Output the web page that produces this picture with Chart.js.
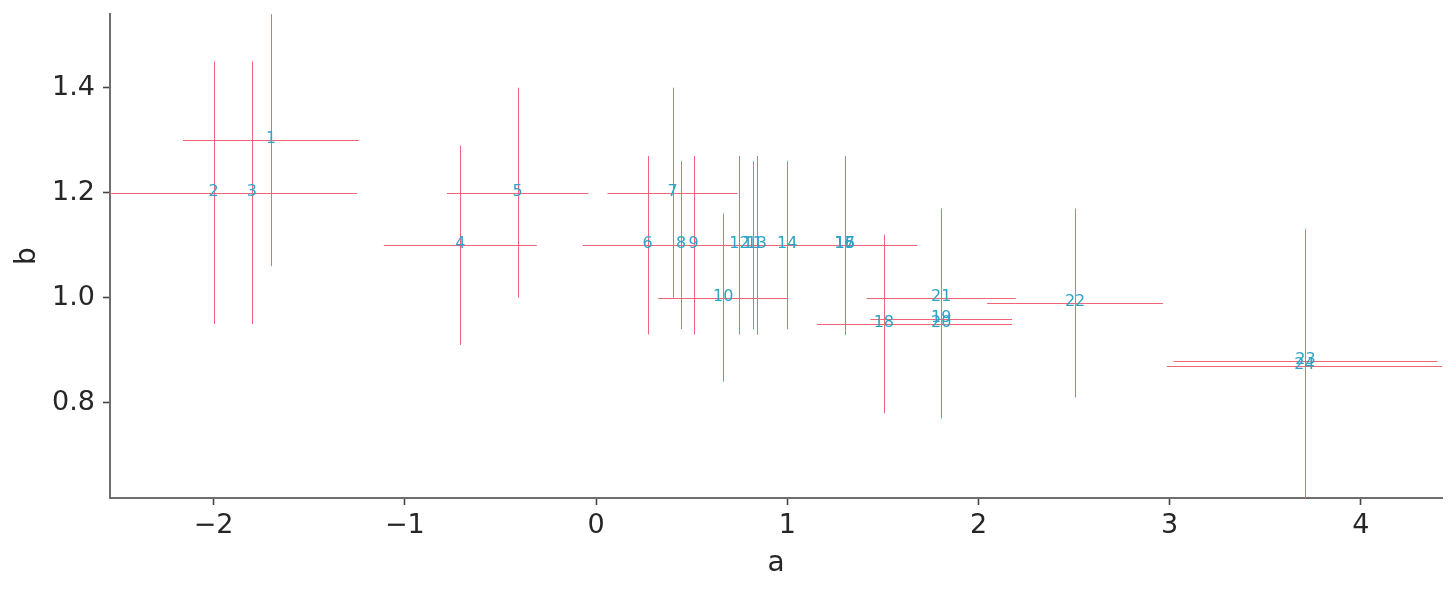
<!DOCTYPE html>
<html>
<head>
<meta charset="utf-8">
<script src="https://cdn.jsdelivr.net/npm/chart.js@4.4.1/dist/chart.umd.min.js"></script>
<style>
  html, body { margin: 0; padding: 0; background: #fff; }
  #c { display: block; }
</style>
</head>
<body>
<canvas id="c" width="1456" height="592"></canvas>
<script>
// point labels, positions (a, b) and symmetric errors
const LABELS = ["1","2","3","4","5","6","7","8","9","10","11","12",
                "13","14","15","16","17","18","19","20","21","22","23","24"];
const A     = [-1.70, -2.00, -1.80, -0.71, -0.41, 0.27, 0.40, 0.445, 0.51, 0.665, 0.82, 0.75,
                0.84,  1.00,  1.30,  1.30,  1.30, 1.505, 1.805, 1.805, 1.805, 2.505, 3.71, 3.705];
const B     = [ 1.30,  1.20,  1.20,  1.10,  1.20, 1.10, 1.20, 1.10, 1.10, 1.00, 1.10, 1.10,
                1.10,  1.10,  1.10,  1.10,  1.10, 0.95, 0.96, 0.95, 1.00, 0.99, 0.88, 0.87];
const A_ERR = [ 0.46,  0.55,  0.55,  0.40,  0.37, 0.34, 0.34, 0.35, 0.33, 0.34, 0.36, 0.34,
                0.35,  0.36,  0.38,  0.36,  0.35, 0.35, 0.37, 0.37, 0.39, 0.46, 0.69, 0.72];
const B_ERR = [ 0.24,  0.25,  0.25,  0.19,  0.20, 0.17, 0.20, 0.16, 0.17, 0.16, 0.16, 0.17,
                0.17,  0.16,  0.17,  0.17,  0.17, 0.17, 0.17, 0.18, 0.17, 0.18, 0.25, 0.26];

const X_TICKS = [-2, -1, 0, 1, 2, 3, 4];
const Y_TICKS = [0.8, 1.0, 1.2, 1.4];

const BAR_COLOR = "#ee6677";
const LABEL_COLOR = "#2ea3c5";
const TEXT = "#262626";
const FONT = "'DejaVu Sans', 'Liberation Sans', sans-serif";

const snap = v => Math.round(v) + 0.5;

// error bars + number labels, drawn through the chart's own scales
const errorBars = {
  id: "errorBars",
  afterDatasetsDraw(chart) {
    const { ctx, chartArea: ca, scales: { x, y } } = chart;
    ctx.save();
    ctx.beginPath();
    ctx.rect(ca.left, ca.top, ca.right - ca.left, ca.bottom - ca.top);
    ctx.clip();
    ctx.strokeStyle = BAR_COLOR;
    ctx.lineWidth = 1;
    A.forEach((a, i) => {
      const px = snap(x.getPixelForValue(a));
      const py = snap(y.getPixelForValue(B[i]));
      ctx.beginPath();
      ctx.moveTo(x.getPixelForValue(a - A_ERR[i]), py);
      ctx.lineTo(x.getPixelForValue(a + A_ERR[i]), py);
      ctx.moveTo(px, y.getPixelForValue(B[i] + B_ERR[i]));
      ctx.lineTo(px, y.getPixelForValue(B[i] - B_ERR[i]));
      ctx.stroke();
    });
    ctx.restore();

    ctx.save();
    ctx.fillStyle = LABEL_COLOR;
    ctx.font = "16px " + FONT;
    ctx.textAlign = "center";
    ctx.textBaseline = "middle";
    A.forEach((a, i) => {
      ctx.fillText(LABELS[i], x.getPixelForValue(a), y.getPixelForValue(B[i]) - 1);
    });
    ctx.restore();
  }
};

const fmtX = v => (v < 0 ? "\u2212" + Math.abs(v) : String(v));

new Chart(document.getElementById("c"), {
  type: "scatter",
  data: {
    datasets: [{
      data: A.map((a, i) => ({ x: a, y: B[i] })),
      pointRadius: 0,
      pointHoverRadius: 0
    }]
  },
  options: {
    responsive: false,
    animation: false,
    events: [],
    layout: { padding: { top: 14, right: 14, left: 0, bottom: 0 } },
    plugins: { legend: { display: false }, tooltip: { enabled: false } },
    scales: {
      x: {
        type: "linear",
        min: -2.542,
        max: 4.424,
        afterBuildTicks: s => { s.ticks = X_TICKS.map(v => ({ value: v })); },
        afterFit: s => { s.height = 94; s.paddingLeft = 0; s.paddingRight = 0; },
        grid: { drawOnChartArea: false, tickLength: 7, tickColor: "#444", tickWidth: 1.6 },
        border: { color: "#6e6e6e", width: 2 },
        ticks: { color: TEXT, font: { family: FONT, size: 27 }, padding: 5,
                 maxRotation: 0, callback: v => fmtX(v) },
        title: { display: true, text: "a", color: TEXT,
                 font: { family: FONT, size: 28 }, padding: { top: 0, bottom: 11 } }
      },
      y: {
        type: "linear",
        min: 0.6185,
        max: 1.5404,
        afterBuildTicks: s => { s.ticks = Y_TICKS.map(v => ({ value: v })); },
        afterFit: s => { s.width = 110; s.paddingTop = 0; s.paddingBottom = 0; },
        grid: { drawOnChartArea: false, tickLength: 7, tickColor: "#444", tickWidth: 1.6 },
        border: { color: "#6e6e6e", width: 2 },
        ticks: { color: TEXT, font: { family: FONT, size: 27 }, padding: 8,
                 callback: v => v.toFixed(1) },
        title: { display: true, text: "b", color: TEXT,
                 font: { family: FONT, size: 28 }, padding: { top: 11, bottom: 0 } }
      }
    }
  },
  plugins: [errorBars]
});
</script>
</body>
</html>
